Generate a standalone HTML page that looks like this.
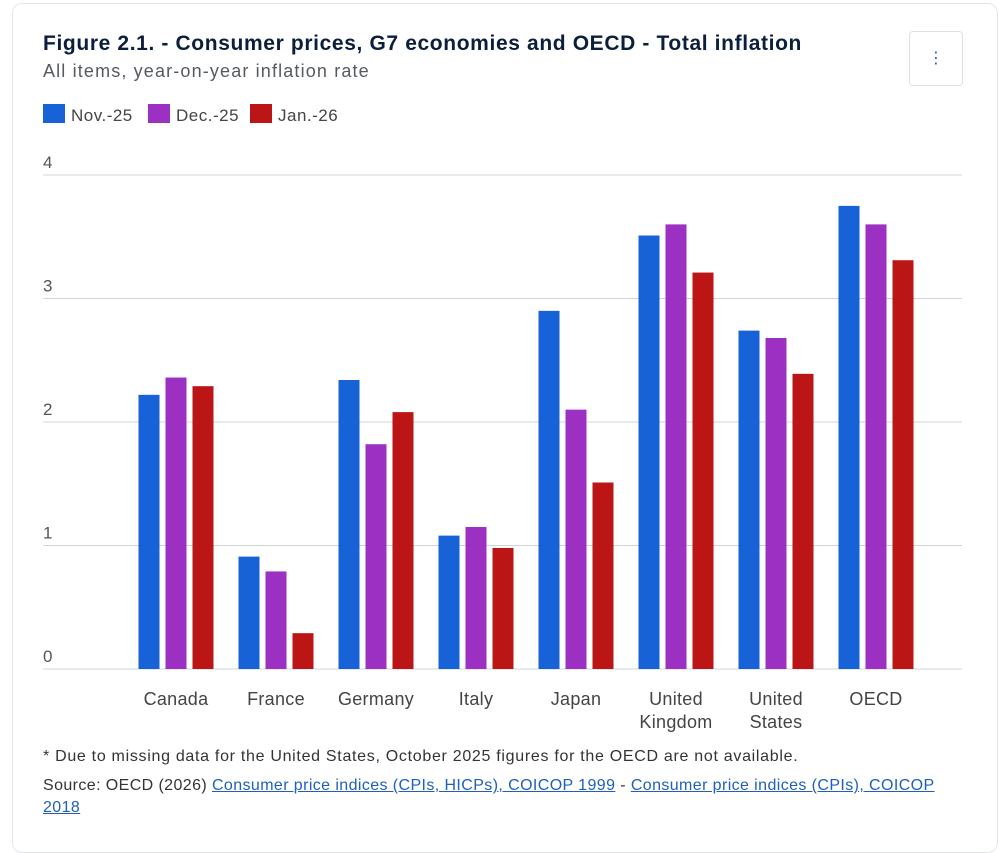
<!DOCTYPE html>
<html><head><meta charset="utf-8"><style>
body{margin:0;background:#fff;font-family:"Liberation Sans","DejaVu Sans",sans-serif;}
#card{position:absolute;left:12px;top:3px;width:986px;height:850px;border:1px solid #e3e5e8;border-radius:10px;box-sizing:border-box;}
.t{position:absolute;white-space:nowrap;}
a{color:#1f5fbf;text-decoration:underline;}
</style></head><body>
<div id="card"></div>
<div class="t" style="left:43px;top:32px;font-size:21px;font-weight:bold;color:#0b1e3b;letter-spacing:0.63px">Figure 2.1. - Consumer prices, G7 economies and OECD - Total inflation</div>
<div class="t" style="left:43px;top:61px;font-size:18px;color:#555a60;letter-spacing:1.15px">All items, year-on-year inflation rate</div>
<div style="position:absolute;left:909px;top:31px;width:54px;height:55px;border:1px solid #dde0e4;border-radius:4px;box-sizing:border-box;color:#1f5fbf;text-align:center;line-height:53px;font-size:16px">&#8942;</div>
<svg id="chart" width="1008" height="839" style="position:absolute;left:0;top:0"></svg>
<div class="t" style="left:43px;top:748px;font-size:16px;color:#333;letter-spacing:0.7px">* Due to missing data for the United States, October 2025 figures for the OECD are not available.</div>
<div style="position:absolute;left:43px;top:775px;width:905px;font-size:16px;color:#333;line-height:22px;letter-spacing:0.4px">Source: OECD (2026) <a>Consumer price indices (CPIs, HICPs), COICOP 1999</a> - <a>Consumer price indices (CPIs), COICOP 2018</a></div>
<script>
const categories=[["Canada"],["France"],["Germany"],["Italy"],["Japan"],["United","Kingdom"],["United","States"],["OECD"]];
const seriesNames=["Nov.-25","Dec.-25","Jan.-26"];
const seriesColors=["#1862d8","#9b30c2","#bb1515"];
const nov=[2.22,0.91,2.34,1.08,2.90,3.51,2.74,3.75];
const dec=[2.36,0.79,1.82,1.15,2.10,3.60,2.68,3.60];
const jan=[2.29,0.29,2.08,0.98,1.51,3.21,2.39,3.31];
const yTicks=[0,1,2,3,4];
const NS="http://www.w3.org/2000/svg";
const svg=document.getElementById('chart');
const y0=669,y4=175,xL=43,xR=962;
function y(v){return y0-(y0-y4)*v/4;}
function xc(i){return 176+i*100;}
function mk(t,a){const e=document.createElementNS(NS,t);for(const k in a)e.setAttribute(k,a[k]);svg.appendChild(e);return e;}
yTicks.forEach(v=>{
 const l=mk('line',{x1:xL,x2:xR,y1:y(v),y2:y(v),stroke:'#d0d4d9','stroke-width':1});
 
 
 const t=mk('text',{x:43,y:y(v)-7,'font-size':17,fill:'#555','font-family':'Liberation Sans, sans-serif'});
 t.textContent=v;
 
 
});
[nov,dec,jan].forEach((s,si)=>{
 s.forEach((v,i)=>{
  const x=xc(i)-37.5+si*27;
  const r=mk('rect',{x:x,y:y(v),width:21,height:y0-y(v),fill:seriesColors[si]});
  
  
 });
});
categories.forEach((c,i)=>{
 c.forEach((w,j)=>{
  const t=mk('text',{x:xc(i),y:705+j*23,'font-size':18,fill:'#444','text-anchor':'middle','font-family':'Liberation Sans, sans-serif','letter-spacing':'0.3'});
  t.textContent=w;
  
  
 });
});
const lxs=[43,148,250];
seriesNames.forEach((n,i)=>{
 const lx=lxs[i];
 const r=mk('rect',{x:lx,y:104,width:22,height:19,fill:seriesColors[i]});
 
 
 const t=mk('text',{x:lx+28,y:121,'font-size':17,fill:'#444','font-family':'Liberation Sans, sans-serif','letter-spacing':'0.5'});
 t.textContent=n;
 
 
});
</script>
</body></html>
